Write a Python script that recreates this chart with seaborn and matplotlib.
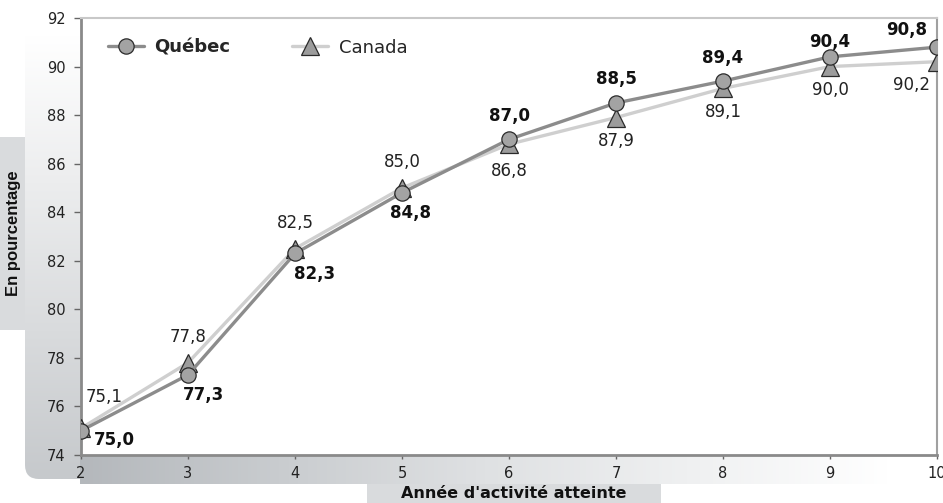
import numpy as np
import matplotlib
matplotlib.use("Agg")
import matplotlib.pyplot as plt
import pandas as pd
import seaborn as sns
from matplotlib.patches import Rectangle, FancyBboxPatch

# données
annees = [2, 3, 4, 5, 6, 7, 8, 9, 10]
quebec = [75.0, 77.3, 82.3, 84.8, 87.0, 88.5, 89.4, 90.4, 90.8]
canada = [75.1, 77.8, 82.5, 85.0, 86.8, 87.9, 89.1, 90.0, 90.2]
y_ticks = [74, 76, 78, 80, 82, 84, 86, 88, 90, 92]

sns.set_theme(style="white")
plt.rcParams['font.family'] = ['DejaVu Sans']

W, H = 943, 503
fig = plt.figure(figsize=(W / 100, H / 100), dpi=100)

# fond décoratif (coordonnées en pixels)
bg = fig.add_axes([0, 0, 1, 1], zorder=0)
bg.set_xlim(0, W)
bg.set_ylim(H, 0)
bg.axis("off")

# colonne des étiquettes de l'axe Y (dégradé vertical, coin arrondi)
grad_v = np.linspace(0, 1, 256).reshape(-1, 1)
cmap_v = matplotlib.colors.LinearSegmentedColormap.from_list("v", ["#ffffff", "#c6c9cc"])
im = bg.imshow(grad_v, cmap=cmap_v, extent=[25, 81, 479, 35], aspect="auto", zorder=1)
clip = FancyBboxPatch((25, -30), 80, 509, boxstyle="round,pad=0,rounding_size=14",
                      transform=bg.transData, facecolor="none", edgecolor="none")
bg.add_patch(clip)
im.set_clip_path(clip)

# boîte du titre Y
bg.add_patch(Rectangle((0, 137), 25, 193, facecolor="#d9dbdd", edgecolor="none", zorder=2))

# bande sous l'axe X (dégradé horizontal)
grad_h = np.linspace(0, 1, 256).reshape(1, -1)
cmap_h = matplotlib.colors.LinearSegmentedColormap.from_list("h", ["#b4b8bc", "#dfe1e3", "#ffffff"])
bg.imshow(grad_h, cmap=cmap_h, extent=[80, 890, 484, 456], aspect="auto", zorder=1)

# boîte du titre X
bg.add_patch(Rectangle((367, 484), 294, 19, facecolor="#d9dbdd", edgecolor="none", zorder=2))
bg.set_xlim(0, W)
bg.set_ylim(H, 0)

# graphique principal
ax = fig.add_axes([81 / W, (H - 455) / H, (937 - 81) / W, (455 - 18) / H], zorder=1)
ax.set_facecolor("white")

df = pd.DataFrame({"annee": annees, "Québec": quebec, "Canada": canada})

sns.lineplot(data=df, x="annee", y="Canada", ax=ax, color="#cfcfcf", linewidth=2.4,
             marker="^", markersize=13, markerfacecolor="#9c9c9c",
             markeredgecolor="#2a2a2a", markeredgewidth=0.9, label="Canada", zorder=3)
sns.lineplot(data=df, x="annee", y="Québec", ax=ax, color="#8c8c8c", linewidth=2.4,
             marker="o", markersize=11, markerfacecolor="#a3a3a3",
             markeredgecolor="#2a2a2a", markeredgewidth=0.9, label="Québec", zorder=4)

ax.set_xlim(2, 10)
ax.set_ylim(74, 92)
ax.set_xticks(annees)
ax.set_yticks(y_ticks)
ax.tick_params(axis="both", labelsize=10.5, colors="#222222")
ax.tick_params(axis="y", direction="out", length=5, width=1, color="#666666", left=True, pad=6)
ax.tick_params(axis="x", direction="out", length=3, width=1, color="#666666", bottom=True, pad=5)

for s in ["left", "bottom"]:
    ax.spines[s].set_color("#8a8a8a")
    ax.spines[s].set_linewidth(2)
ax.spines["top"].set_color("#c8c8c8")
ax.spines["top"].set_linewidth(1.5)
ax.spines["right"].set_color("#a0a0a0")
ax.spines["right"].set_linewidth(1.5)

ax.set_xlabel("Année d'activité atteinte", fontsize=11.5, fontweight="bold", color="#111111")
ax.xaxis.set_label_coords(0.505, -0.071)
ax.set_ylabel("En pourcentage", fontsize=12, fontweight="bold", color="#111111",
              family=["Liberation Sans Narrow", "Liberation Sans", "DejaVu Sans"], va="center")
ax.yaxis.set_label_coords(-0.079, 0.508)

# étiquettes des valeurs
def fmt(v):
    return f"{v:.1f}".replace(".", ",")

n = len(annees)
for i, (x, q, c) in enumerate(zip(annees, quebec, canada)):
    if i == 0:
        pq, pc = (9, 0, "left"), (3, 16, "left")
    elif i == n - 1:
        pq, pc = (-7, 5.5, "right"), (-5, -10, "right")
    elif i < 4:
        pq = ({1: 11, 2: 14, 3: 6}[i], -8, "center")
        pc = (0, 12, "center")
    else:
        pq = (0, 4.5 if i == 7 else 10.5, "center")
        pc = (0, -13 if i == 4 else -10.5, "center")
    ax.annotate(fmt(q), (x, q), xytext=pq[:2], textcoords="offset points",
                ha=pq[2], va="bottom" if pq[1] > 0 else "top",
                fontsize=12, fontweight="bold", color="#111111")
    ax.annotate(fmt(c), (x, c), xytext=pc[:2], textcoords="offset points",
                ha=pc[2], va="bottom" if pc[1] > 0 else "top",
                fontsize=12, color="#222222")

handles, labels = ax.get_legend_handles_labels()
order = [labels.index("Québec"), labels.index("Canada")]
leg = ax.legend([handles[k] for k in order], [labels[k] for k in order],
                loc="upper left", bbox_to_anchor=(0.012, 0.99), ncol=2, frameon=False,
                fontsize=13, handlelength=2.0, columnspacing=3.4, handletextpad=0.6)
for t in leg.get_texts():
    if t.get_text() == "Québec":
        t.set_fontweight("bold")

fig.savefig("out.png", dpi=100)
